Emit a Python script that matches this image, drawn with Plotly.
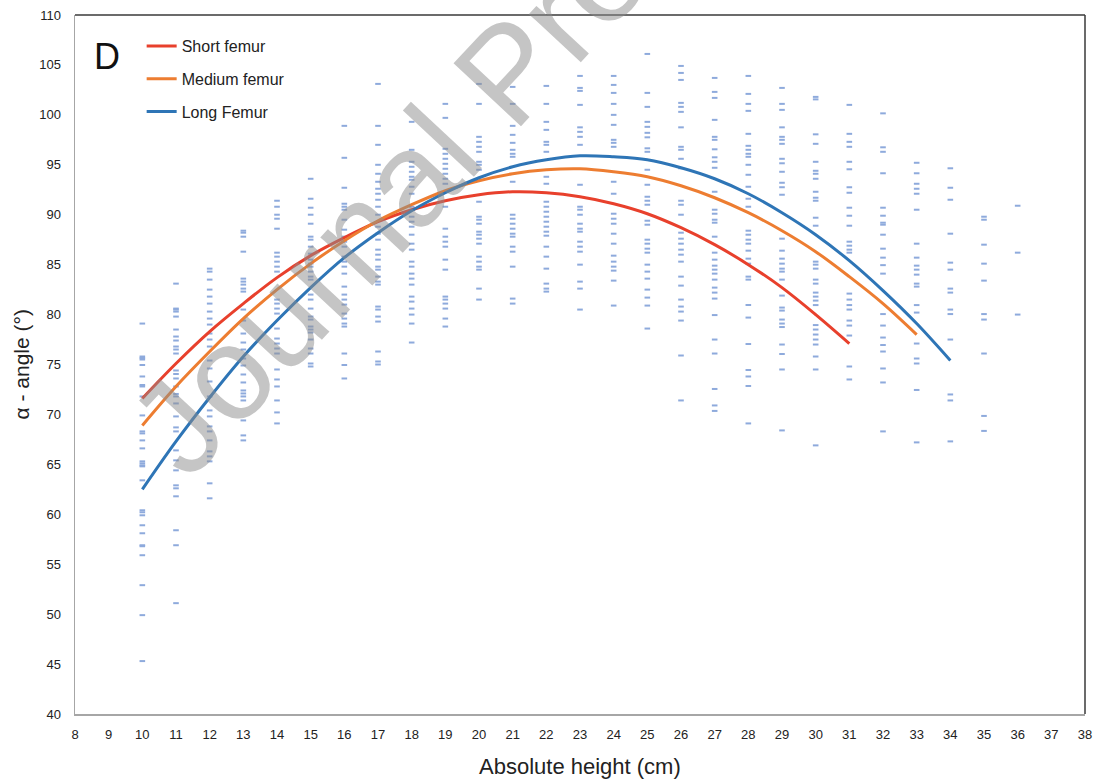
import plotly.graph_objects as go

# ---------------- data ----------------
# observed alpha-angle values (degrees) at each absolute height (cm)
heights_obs = list(range(10, 37))
alpha_obs = [
    [79.1, 75.8, 75.65, 75.5, 74.95, 73.8, 72.95, 72.8, 71.8, 69.9, 68.3, 68.1, 67.4, 66.6, 65.3, 65.1, 64.9, 64.8,
     63.4, 60.4, 60.2, 59.9, 58.9, 58.1, 56.9, 56.8, 55.9, 52.9, 49.9, 45.3],                                   # 10
    [83.1, 80.6, 80.5, 80.3, 79.8, 78.5, 77.8, 77.4, 76.8, 76.5, 76.1, 74.4, 74.05, 73.6, 72.8, 72.05, 71.8, 71.1,
     69.8, 68.7, 68.3, 66.4, 65.4, 64.4, 62.9, 62.6, 61.8, 58.4, 56.9, 51.1],                                   # 11
    [84.6, 84.3, 83.5, 82.5, 81.8, 81.1, 80.3, 79.6, 79.0, 78.1, 77.5, 76.8, 75.4, 74.6, 73.3, 71.8, 70.4, 69.8,
     68.8, 68.3, 67.4, 66.3, 65.8, 65.3, 63.1, 61.6],                                                           # 12
    [88.4, 88.2, 87.8, 86.3, 83.6, 83.3, 83.0, 82.6, 82.3, 80.5, 79.4, 78.1, 77.2, 76.5, 75.6, 74.9, 74.0, 73.2,
     72.4, 72.1, 71.8, 71.4, 69.4, 67.9, 67.4],                                                                 # 13
    [91.4, 90.8, 90.0, 89.6, 88.6, 86.2, 85.8, 85.3, 84.8, 84.3, 81.5, 81.1, 80.6, 80.1, 78.6, 77.6, 77.1, 76.6,
     76.1, 74.5, 73.5, 72.8, 71.4, 70.2, 69.1],                                                                 # 14
    [93.6, 91.6, 90.7, 90.0, 89.1, 87.8, 87.5, 86.8, 86.1, 85.5, 85.1, 84.8, 84.3, 83.8, 83.5, 82.0, 81.5, 80.6,
     79.8, 79.5, 78.8, 78.5, 78.2, 77.5, 76.6, 76.1, 75.1, 74.8],                                               # 15
    [98.9, 95.7, 92.7, 91.1, 90.8, 90.5, 89.5, 88.5, 87.8, 87.3, 86.8, 85.8, 85.3, 84.8, 84.1, 82.8, 82.0, 81.5,
     81.0, 80.1, 79.6, 79.1, 78.8, 76.1, 74.95, 73.6],                                                          # 16
    [103.1, 98.9, 97.0, 95.0, 94.1, 93.3, 92.6, 92.1, 91.5, 90.8, 90.0, 88.8, 88.1, 87.5, 86.5, 86.0, 85.5, 84.8,
     84.5, 83.8, 83.3, 83.0, 80.8, 80.5, 79.8, 79.3, 76.3, 75.3, 75.0],                                         # 17
    [99.3, 96.5, 95.3, 94.8, 94.3, 93.8, 93.5, 92.8, 92.1, 90.8, 89.8, 89.3, 88.8, 88.0, 87.1, 86.5, 85.3, 84.8,
     84.1, 83.6, 83.0, 81.8, 81.3, 80.6, 80.0, 79.1, 77.2],                                                     # 18
    [101.1, 99.7, 96.6, 96.1, 95.6, 95.1, 94.6, 94.1, 93.6, 93.1, 90.8, 88.6, 87.8, 87.3, 86.8, 85.5, 84.5, 81.8,
     81.5, 81.1, 80.6, 79.6, 78.8],                                                                             # 19
    [103.1, 101.1, 97.8, 97.3, 96.8, 96.3, 95.3, 95.0, 94.5, 91.3, 89.8, 89.5, 89.1, 88.3, 88.0, 87.6, 87.1, 85.8,
     85.3, 84.8, 84.5, 82.6, 81.5],                                                                             # 20
    [102.8, 101.1, 98.9, 98.0, 97.2, 96.5, 96.1, 95.8, 93.3, 90.0, 89.6, 89.1, 88.6, 88.1, 87.8, 86.8, 86.3, 84.8,
     81.6, 81.1],                                                                                               # 21
    [102.9, 101.1, 99.3, 98.5, 97.3, 97.0, 96.3, 93.8, 93.1, 91.3, 90.8, 90.3, 89.8, 89.3, 88.8, 88.3, 87.9, 86.8,
     85.8, 84.6, 83.1, 82.6, 82.3],                                                                             # 22
    [103.9, 102.7, 102.4, 101.0, 98.75, 98.3, 97.8, 97.0, 93.0, 90.8, 90.5, 90.0, 89.1, 88.6, 88.3, 87.3, 86.8,
     86.3, 85.0, 83.3, 82.6, 80.5],                                                                             # 23
    [103.9, 103.0, 102.2, 101.1, 100.0, 99.0, 97.5, 97.2, 96.8, 93.3, 92.1, 90.1, 89.6, 89.1, 88.1, 87.1, 85.9,
     85.3, 84.8, 84.4, 83.4, 80.9],                                                                             # 24
    [106.1, 102.2, 100.8, 99.3, 98.8, 98.2, 97.75, 96.65, 96.3, 94.5, 93.0, 91.8, 91.4, 91.0, 89.4, 89.0, 87.5,
     87.1, 86.6, 86.2, 85.0, 84.3, 83.6, 82.5, 81.7, 80.9, 78.6],                                               # 25
    [104.9, 104.2, 103.5, 101.2, 100.8, 100.3, 98.75, 96.8, 96.5, 95.6, 94.65, 91.4, 91.0, 90.0, 88.2, 87.6, 87.1,
     86.5, 86.0, 85.3, 83.8, 82.9, 81.5, 80.8, 80.3, 79.4, 75.9, 71.4],                                         # 26
    [103.7, 102.3, 101.7, 99.5, 97.8, 97.5, 96.55, 95.75, 95.3, 94.7, 92.3, 90.5, 90.1, 89.5, 89.2, 87.8, 86.2,
     85.5, 84.9, 84.5, 84.1, 83.5, 82.7, 82.2, 81.6, 79.95, 77.5, 76.1, 72.55, 70.9, 70.35],                    # 27
    [103.9, 102.1, 101.1, 100.4, 98.1, 96.9, 96.5, 96.1, 95.8, 95.0, 94.0, 92.8, 91.6, 90.8, 88.4, 88.0, 87.5,
     87.1, 86.4, 85.6, 85.1, 83.8, 83.5, 80.96, 79.7, 77.05, 74.45, 73.8, 72.85, 69.1],                         # 28
    [102.7, 101.1, 100.5, 98.75, 97.8, 97.5, 97.1, 95.6, 95.15, 94.3, 93.2, 92.75, 92.0, 87.6, 86.4, 85.6, 85.1,
     84.6, 84.3, 83.5, 81.9, 80.7, 80.4, 79.5, 79.1, 78.75, 77.0, 76.05, 74.5, 68.4],                           # 29
    [101.55, 101.8, 98.05, 97.1, 95.3, 94.4, 94.1, 93.6, 92.3, 91.7, 91.4, 89.7, 88.9, 85.3, 85.0, 84.6, 83.5,
     83.1, 82.2, 81.8, 81.4, 80.95, 78.95, 78.5, 78.0, 77.5, 77.0, 75.8, 74.5, 66.9],                           # 30
    [101.0, 98.1, 97.3, 96.8, 95.3, 94.55, 92.75, 92.2, 90.7, 89.9, 88.9, 87.3, 86.9, 86.5, 86.2, 82.1, 81.5,
     80.95, 80.5, 79.4, 78.9, 77.9, 74.8, 73.5],                                                                # 31
    [100.15, 96.75, 96.3, 94.15, 90.7, 89.9, 89.2, 89.0, 88.0, 86.6, 85.7, 84.95, 84.1, 80.05, 78.9, 77.7, 76.95,
     76.3, 74.6, 73.2, 68.3],                                                                                   # 32
    [95.2, 94.15, 93.1, 92.6, 92.1, 90.5, 87.1, 85.7, 84.9, 84.5, 84.0, 83.1, 82.8, 80.95, 80.2, 77.1, 75.6, 75.1,
     72.45, 67.2],                                                                                              # 33
    [94.65, 92.7, 91.5, 88.1, 85.2, 84.5, 82.6, 82.2, 80.5, 80.05, 77.5, 72.0, 71.4, 67.3],                     # 34
    [89.8, 89.5, 87.0, 85.1, 83.4, 80.05, 79.5, 76.1, 69.85, 68.35],                                           # 35
    [90.9, 86.2, 80.0],                                                                                         # 36
]

# fitted trend lines
short_x = list(range(10, 32))
short_y = [71.6, 75.1, 78.3, 81.1, 83.7, 85.9, 87.7, 89.3, 90.5, 91.4, 92.0, 92.3, 92.2, 91.8, 91.1, 90.1,
           88.7, 87.0, 85.0, 82.7, 80.0, 77.1]
medium_x = list(range(10, 34))
medium_y = [68.9, 72.8, 76.3, 79.6, 82.5, 85.1, 87.4, 89.4, 91.0, 92.4, 93.4, 94.1, 94.5, 94.6, 94.3, 93.8,
            92.9, 91.7, 90.2, 88.4, 86.3, 83.8, 81.1, 78.0]
long_x = list(range(10, 35))
long_y = [62.5, 67.3, 71.7, 75.8, 79.4, 82.7, 85.7, 88.2, 90.4, 92.2, 93.7, 94.8, 95.5, 95.9, 95.8, 95.5,
          94.7, 93.6, 92.1, 90.2, 88.0, 85.4, 82.4, 79.1, 75.4]

x_ticks = list(range(8, 39))
y_ticks = list(range(40, 111, 5))

# ---------------- figure ----------------
FONT = "Liberation Sans Narrow, Liberation Sans, Arial, sans-serif"

sx, sy = [], []
for h, vals in zip(heights_obs, alpha_obs):
    sx += [h] * len(vals)
    sy += vals

fig = go.Figure()
fig.add_trace(go.Scatter(
    x=sx, y=sy, mode="markers", showlegend=False, hoverinfo="skip",
    marker=dict(symbol="line-ew", size=4, color="#8eaadc",
                line=dict(color="#8eaadc", width=2)),
))

for name, xs, ys, col, grp in [
    ("Short femur", short_x, short_y, "#e8402c", "a"),
    ("Medium femur", medium_x, medium_y, "#ed7d31", "b"),
    ("Long Femur", long_x, long_y, "#2e75b6", "c"),
]:
    fig.add_trace(go.Scatter(
        x=xs, y=ys, mode="lines", name=name, legendgroup=grp, hoverinfo="skip",
        line=dict(color=col, width=3, shape="spline", smoothing=1.0),
    ))

fig.update_layout(
    width=1094, height=780,
    margin=dict(l=75, r=9, t=15, b=66, autoexpand=False),
    paper_bgcolor="white", plot_bgcolor="white",
    font=dict(family=FONT, color="#222222"),
    showlegend=True,
    hovermode=False,
    legend=dict(x=0.066, y=0.98, xanchor="left", yanchor="top",
                bgcolor="rgba(0,0,0,0)", font=dict(size=16, family=FONT, color="#222222"),
                tracegroupgap=9, itemwidth=30),
    xaxis=dict(range=[8, 38], tickmode="array", tickvals=x_ticks, ticktext=[str(t) for t in x_ticks],
               showgrid=False, zeroline=False, showline=True, linecolor="#a6a6a6", linewidth=1.5,
               ticks="", tickfont=dict(size=13, family=FONT), ticklabelstandoff=8,
               ticklabeloverflow="allow", automargin=False),
    yaxis=dict(range=[40, 110], tickmode="array", tickvals=y_ticks, ticktext=[str(t) for t in y_ticks],
               showgrid=False, zeroline=False, showline=True, linecolor="#a6a6a6", linewidth=1.5,
               ticks="", tickfont=dict(size=13, family=FONT), ticklabelstandoff=10,
               ticklabeloverflow="allow", automargin=False),
    shapes=[
        dict(type="line", xref="paper", yref="paper", x0=0, x1=1, y0=1, y1=1,
             line=dict(color="#3a3a3a", width=1.5)),
        dict(type="line", xref="paper", yref="paper", x0=1, x1=1, y0=0, y1=1,
             line=dict(color="#3a3a3a", width=1.5)),
    ],
    annotations=[
        dict(text="Absolute height (cm)", xref="paper", yref="paper", x=0.5, y=-0.0758,
             xanchor="center", yanchor="middle", showarrow=False,
             font=dict(size=22, family=FONT, color="#222222")),
        dict(text="α - angle (°)", xref="paper", yref="paper", x=-0.0525, y=0.5,
             xanchor="center", yanchor="middle", textangle=-90, showarrow=False,
             font=dict(size=21, family=FONT, color="#222222")),
        dict(text="D", xref="paper", yref="paper", x=0.032, y=0.94, xanchor="center", yanchor="middle",
             showarrow=False, font=dict(size=36, family=FONT, color="#111111")),
        dict(text="Journal Pre-proof", xref="x", yref="y", x=20.85, y=104.2, showarrow=False,
             xanchor="center", yanchor="middle",
             textangle=-47, font=dict(size=134, family="Liberation Sans, Arial, sans-serif",
                                      color="rgba(140,140,140,0.5)")),
    ],
)

# remove the default 8px page margin so the figure fills the window exactly
fig.write_html("out.html",
               config={"displayModeBar": False, "staticPlot": True},
               post_script="document.body.style.margin='0px';document.body.style.padding='0px';")
